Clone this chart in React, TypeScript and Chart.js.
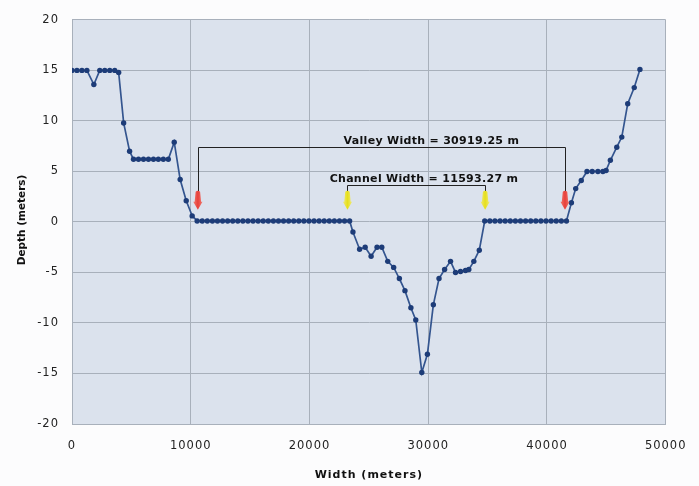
import React, { useEffect, useRef } from "react";
import { Chart, registerables } from "chart.js";

Chart.register(...registerables);

// Cross-section profile: distance across (m) and depth (m)
const widthM: number[] = [
  0, 418, 836, 1254, 1840, 2340, 2760, 3180, 3600, 3930,
  4350, 4850, 5180, 5600, 6020, 6440, 6860, 7270, 7690, 8110,
  8610, 9110, 9620, 10120, 10540,
  10968, 11396, 11824, 12252, 12680, 13108, 13536, 13964, 14392, 14820,
  15248, 15676, 16104, 16532, 16960, 17388, 17816, 18244, 18672, 19100,
  19528, 19956, 20384, 20812, 21240, 21668, 22096, 22524, 22952, 23380,
  23660, 24220, 24690, 25190, 25690, 26090, 26590, 27090, 27570, 28040,
  28540, 28950, 29460, 29930, 30430, 30910, 31380, 31880, 32300, 32720,
  33140, 33420, 33840, 34300, 34760,
  35190, 35620, 36050, 36480, 36910, 37340, 37770, 38200, 38630, 39060,
  39490, 39920, 40350, 40780, 41210, 41640,
  42060, 42420, 42890, 43370, 43810, 44290, 44710, 44980, 45340, 45880,
  46300, 46800, 47350, 47830,
];

const depthM: number[] = [
  15, 15, 15, 15, 13.6, 15, 15, 15, 15, 14.8,
  9.8, 7.0, 6.2, 6.2, 6.2, 6.2, 6.2, 6.2, 6.2, 6.2,
  7.9, 4.2, 2.1, 0.6, 0.1,
  0.1, 0.1, 0.1, 0.1, 0.1, 0.1, 0.1, 0.1, 0.1, 0.1,
  0.1, 0.1, 0.1, 0.1, 0.1, 0.1, 0.1, 0.1, 0.1, 0.1,
  0.1, 0.1, 0.1, 0.1, 0.1, 0.1, 0.1, 0.1, 0.1, 0.1,
  -1.0, -2.7, -2.5, -3.4, -2.5, -2.5, -3.9, -4.5, -5.6, -6.8,
  -8.5, -9.7, -14.9, -13.1, -8.2, -5.6, -4.7, -3.9, -5.0, -4.9,
  -4.8, -4.7, -3.9, -2.8, 0.1,
  0.1, 0.1, 0.1, 0.1, 0.1, 0.1, 0.1, 0.1, 0.1, 0.1,
  0.1, 0.1, 0.1, 0.1, 0.1, 0.1,
  1.9, 3.3, 4.1, 5.0, 5.0, 5.0, 5.0, 5.1, 6.1, 7.4,
  8.4, 11.7, 13.3, 15.1,
];

const xTickValues: number[] = [0, 10000, 20000, 30000, 40000, 50000];
const yTickValues: number[] = [-20, -15, -10, -5, 0, 5, 10, 15, 20];

const xTitle = "Width (meters)";
const yTitle = "Depth (meters)";

// Annotation edges (m) and labels
const valleyEdges: number[] = [10600, 41519.25];
const channelEdges: number[] = [23200, 34793.27];
const valleyLabel = "Valley Width = 30919.25 m";
const channelLabel = "Channel Width = 11593.27 m";

const FONT = "'DejaVu Sans', 'Liberation Sans', Arial, sans-serif";

function drawArrow(ctx: CanvasRenderingContext2D, cx: number, top: number, tip: number, fill: string, edge: string) {
  const h = tip - top;
  const shaftW = 3.2;
  const headW = 4.6;
  const headTop = top + h * 0.55;
  ctx.beginPath();
  ctx.moveTo(cx - shaftW * 0.7, top);
  ctx.quadraticCurveTo(cx, top - 2, cx + shaftW * 0.7, top);
  ctx.lineTo(cx + shaftW, headTop);
  ctx.lineTo(cx + headW, headTop);
  ctx.lineTo(cx, tip);
  ctx.lineTo(cx - headW, headTop);
  ctx.lineTo(cx - shaftW, headTop);
  ctx.closePath();
  const g = ctx.createLinearGradient(cx - headW, 0, cx + headW, 0);
  g.addColorStop(0, edge);
  g.addColorStop(0.5, fill);
  g.addColorStop(1, edge);
  ctx.fillStyle = g;
  ctx.fill();
}

const backgroundPlugin = {
  id: "plotBackground",
  beforeDraw(chart: any) {
    const { ctx, chartArea, width, height } = chart;
    ctx.save();
    ctx.fillStyle = "#fcfcfd";
    ctx.fillRect(0, 0, width, height);
    ctx.fillStyle = "#dbe2ed";
    ctx.fillRect(chartArea.left, chartArea.top, chartArea.right - chartArea.left, chartArea.bottom - chartArea.top);
    ctx.restore();
    (ctx as any).letterSpacing = "1px";
  },
};

const annotationPlugin = {
  id: "widthAnnotations",
  afterDatasetsDraw(chart: any) {
    const { ctx } = chart;
    const xs = chart.scales.x;
    const ys = chart.scales.y;
    const px = (v: number) => xs.getPixelForValue(v);
    const py = (v: number) => ys.getPixelForValue(v);

    const arrowTop = py(3.0);
    const arrowTip = py(1.2);

    ctx.save();
    ctx.strokeStyle = "#222";
    ctx.lineWidth = 1;

    // valley bracket
    const vLine = Math.round(py(7.4)) + 0.5;
    const vl = Math.round(px(valleyEdges[0])) + 0.5;
    const vr = Math.round(px(valleyEdges[1])) + 0.5;
    ctx.beginPath();
    ctx.moveTo(vl, arrowTop);
    ctx.lineTo(vl, vLine);
    ctx.lineTo(vr, vLine);
    ctx.lineTo(vr, arrowTop);
    ctx.stroke();

    // channel bracket
    const cLine = Math.round(py(3.68)) + 0.5;
    const cl = Math.round(px(channelEdges[0])) + 0.5;
    const cr = Math.round(px(channelEdges[1])) + 0.5;
    ctx.beginPath();
    ctx.moveTo(cl, arrowTop);
    ctx.lineTo(cl, cLine);
    ctx.lineTo(cr, cLine);
    ctx.lineTo(cr, arrowTop);
    ctx.stroke();

    // arrows
    drawArrow(ctx, px(valleyEdges[0]), arrowTop, arrowTip, "#e8403a", "#ef7a70");
    drawArrow(ctx, px(valleyEdges[1]), arrowTop, arrowTip, "#e8403a", "#ef7a70");
    drawArrow(ctx, px(channelEdges[0]), arrowTop, arrowTip, "#e6df1c", "#efea78");
    drawArrow(ctx, px(channelEdges[1]), arrowTop, arrowTip, "#e6df1c", "#efea78");

    // labels
    ctx.fillStyle = "#111";
    ctx.font = `bold 11px ${FONT}`;
    (ctx as any).letterSpacing = "0.3px";
    ctx.textAlign = "center";
    ctx.textBaseline = "alphabetic";
    ctx.fillText(valleyLabel, px(30267), py(7.75));
    ctx.fillText(channelLabel, px(29640), py(3.92));
    ctx.restore();
  },
  afterDraw(chart: any) {
    const { ctx, chartArea } = chart;
    ctx.save();
    ctx.translate(22, (chartArea.top + chartArea.bottom) / 2 - 2);
    ctx.rotate(-Math.PI / 2);
    ctx.font = `bold 10.5px ${FONT}`;
    (ctx as any).letterSpacing = "0px";
    ctx.fillStyle = "#111";
    ctx.textAlign = "center";
    ctx.textBaseline = "middle";
    ctx.fillText(yTitle, 0, 0);
    ctx.restore();
  },
};

export default function App() {
  const canvasRef = useRef<HTMLCanvasElement | null>(null);

  useEffect(() => {
    const canvas = canvasRef.current;
    if (!canvas) return;
    const points = widthM.map((x, i) => ({ x, y: depthM[i] }));
    const gridColor = "#a8b0bb";

    const chart = new Chart(canvas, {
      type: "scatter",
      data: {
        datasets: [
          {
            label: "Profile",
            data: points,
            showLine: true,
            borderColor: "#34558f",
            borderWidth: 1.7,
            pointRadius: 2.7,
            pointBorderWidth: 0,
            pointBackgroundColor: "#1d3c78",
            pointHoverRadius: 2.7,
          },
        ],
      },
      options: {
        responsive: false,
        animation: false,
        events: [],
        layout: { padding: { left: 11, right: 29, top: 16, bottom: 0 } },
        plugins: {
          legend: { display: false },
          tooltip: { enabled: false },
        },
        scales: {
          x: {
            type: "linear",
            min: 0,
            max: 50000,
            afterBuildTicks: (scale: any) => {
              scale.ticks = xTickValues.map((v) => ({ value: v }));
            },
            afterFit: (scale: any) => {
              scale.height = 62;
            },
            grid: { color: gridColor, drawTicks: false, lineWidth: 1 },
            border: { color: gridColor },
            ticks: {
              padding: 15,
              color: "#222",
              font: { family: FONT, size: 11.5 },
              maxRotation: 0,
              autoSkip: false,
              callback: (v: any) => String(v),
            },
            title: {
              display: true,
              text: xTitle,
              color: "#111",
              font: { family: FONT, size: 11, weight: "bold" },
              padding: { top: 0, bottom: 4 },
            },
          },
          y: {
            type: "linear",
            min: -20,
            max: 20,
            afterBuildTicks: (scale: any) => {
              scale.ticks = yTickValues.map((v) => ({ value: v }));
            },
            afterFit: (scale: any) => {
              scale.width = 61;
            },
            grid: { color: gridColor, drawTicks: false, lineWidth: 1 },
            border: { color: gridColor },
            ticks: {
              padding: 13,
              color: "#222",
              font: { family: FONT, size: 11.5 },
              autoSkip: false,
              callback: (v: any) => String(v),
            },
            title: { display: false },
          },
        },
      },
      plugins: [backgroundPlugin, annotationPlugin],
    });

    return () => {
      chart.destroy();
    };
  }, []);

  return (
    <div style={{ position: "fixed", left: 0, top: 0, width: 699, height: 486, background: "#fcfcfd" }}>
      <canvas ref={canvasRef} width={699} height={486} style={{ display: "block", width: 699, height: 486 }} />
    </div>
  );
}
